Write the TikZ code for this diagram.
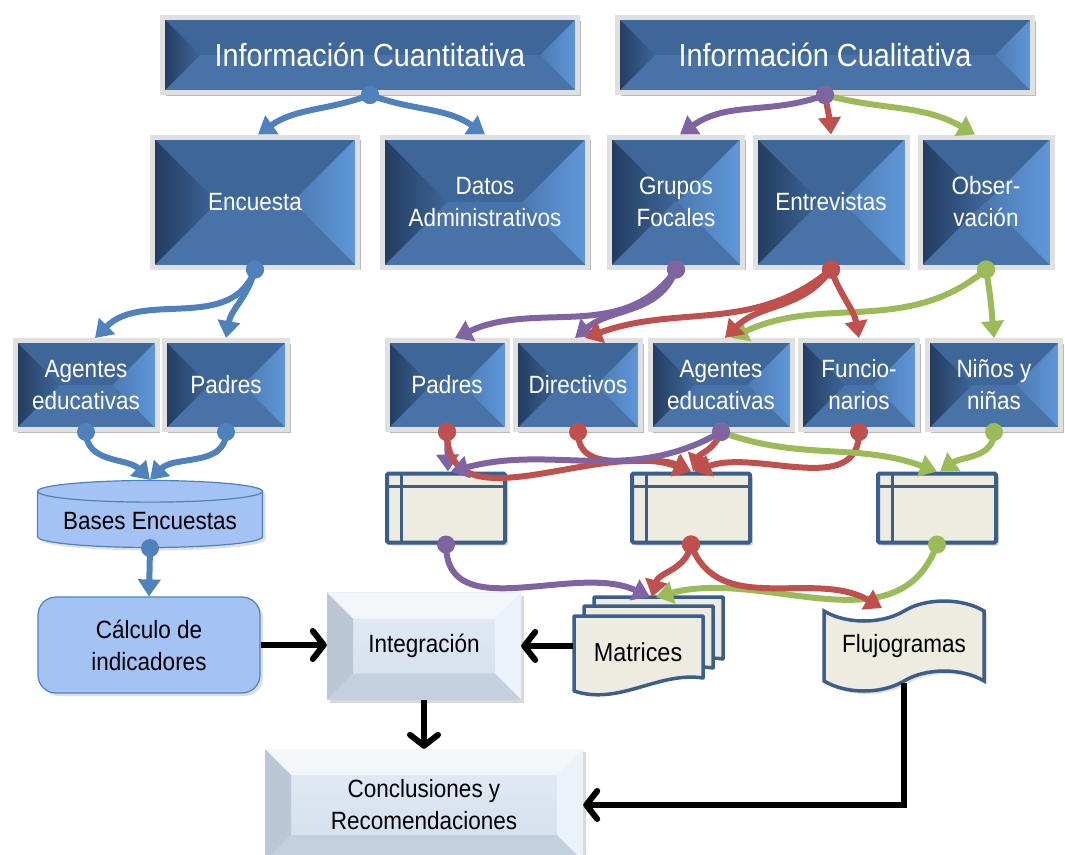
\documentclass[tikz,border=0pt]{standalone}
\usepackage{fontspec}
\setmainfont[FakeStretch=0.9]{Liberation Sans}
\usepackage{tikz}
\usetikzlibrary{shapes,shapes.geometric,shapes.symbols,shadows}
\usetikzlibrary{decorations,decorations.markings}
\usetikzlibrary{calc,arrows.meta}
\definecolor{cblue}{RGB}{79,129,189}
\definecolor{cpurple}{RGB}{128,100,162}
\definecolor{cred}{RGB}{192,80,77}
\definecolor{cgreen}{RGB}{155,187,89}
\definecolor{boxface}{RGB}{62,102,152}
\definecolor{boxdark}{RGB}{34,58,94}
\definecolor{boxlight}{RGB}{96,152,218}
\definecolor{boxlow}{RGB}{72,114,168}
\definecolor{palefacetop}{RGB}{228,236,245}
\definecolor{paleface}{RGB}{210,222,236}
\definecolor{paledark}{RGB}{188,199,214}
\definecolor{palelight}{RGB}{236,242,249}
\definecolor{dbfill}{RGB}{164,194,244}
\definecolor{paper}{RGB}{238,236,225}
\definecolor{ink}{RGB}{59,94,140}
\tikzstyle{bevel}=[draw=white!88!black, line width=5pt, fill=boxface, text=white, align=center,
  font=\fontsize{25}{32}\selectfont, inner sep=2pt,
  drop shadow={opacity=.55, shadow xshift=3pt, shadow yshift=-3pt},
  path picture={
    \path (path picture bounding box.north west) coordinate (pnw)
          (path picture bounding box.south west) coordinate (psw)
          (path picture bounding box.north east) coordinate (pne)
          (path picture bounding box.south east) coordinate (pse)
          (path picture bounding box.west) coordinate (pw)
          (path picture bounding box.east) coordinate (pe);
    \path ($(pw)!1!-90:(pnw)$) coordinate (pl) ($(pe)!1!90:(pne)$) coordinate (pr);
    \fill[boxlow] (psw) -- (pl) -- (pr) -- (pse) -- cycle;
    \shade[left color=boxdark, right color=boxface] (pnw) -- (pl) -- (psw) -- cycle;
    \shade[left color=boxface!60!boxlight, right color=boxlight] (pne) -- (pr) -- (pse) -- cycle;
  }]
\tikzstyle{palebevel}=[top color=palefacetop, bottom color=paleface, text=black, align=center,
  font=\fontsize{25}{32}\selectfont, inner sep=2pt,
  drop shadow={opacity=.3, shadow xshift=3pt, shadow yshift=-3pt},
  path picture={
    \path (path picture bounding box.north west) coordinate (pnw)
          (path picture bounding box.south west) coordinate (psw)
          (path picture bounding box.north east) coordinate (pne)
          (path picture bounding box.south east) coordinate (pse);
    \fill[white, opacity=.6] (pnw) -- (pne) -- ([shift={(-26pt,-26pt)}]pne) -- ([shift={(26pt,-26pt)}]pnw) -- cycle;
    \fill[paledark] (pnw) -- ([shift={(26pt,-26pt)}]pnw) -- ([shift={(26pt,26pt)}]psw) -- (psw) -- cycle;
    \fill[palelight] (pne) -- ([shift={(-26pt,-26pt)}]pne) -- ([shift={(-26pt,26pt)}]pse) -- (pse) -- cycle;
    \fill[paledark!60!paleface] (psw) -- ([shift={(26pt,26pt)}]psw) -- ([shift={(-26pt,26pt)}]pse) -- (pse) -- cycle;
  }]
\tikzstyle{store}=[draw=ink, line width=4pt, fill=paper, rounded corners=1.5pt,
  minimum width=118pt, minimum height=69pt,
  drop shadow={opacity=.3, shadow xshift=3pt, shadow yshift=-3pt},
  path picture={
    \draw[ink, line width=3pt] ([xshift=14pt]path picture bounding box.north west) -- ([xshift=14pt]path picture bounding box.south west);
    \draw[ink, line width=3pt] ([yshift=-13pt]path picture bounding box.north west) -- ([yshift=-13pt]path picture bounding box.north east);
  }]
\tikzstyle{dbase}=[cylinder, shape border rotate=90, aspect=0.12, draw=cblue, line width=1.2pt, fill=dbfill,
  minimum width=225pt, minimum height=67pt, text=black, font=\fontsize{25}{32}\selectfont,
  drop shadow={opacity=.25, shadow xshift=3pt, shadow yshift=-3pt}]
\tikzstyle{dbcalc}=[rectangle, rounded corners=18pt, draw=cblue, line width=1.2pt, fill=dbfill,
  minimum width=222pt, minimum height=96pt, text=black, align=center, font=\fontsize{25}{32}\selectfont,
  drop shadow={opacity=.25, shadow xshift=3pt, shadow yshift=-3pt}]
\tikzstyle{sheet}=[draw=ink, line width=3.5pt, fill=paper, line join=round]
\tikzstyle{flow}=[line width=6pt, -{Triangle[length=17pt,width=22pt]},
  decoration={markings, mark=at position 0 with {\fill circle[radius=9pt];}}, postaction={decorate}]
\tikzstyle{blk}=[line width=6pt, -{Straight Barb[length=11pt,width=28pt,round]}]

\begin{document}
\begin{tikzpicture}[x=1pt,y=-1pt]
\useasboundingbox (0,0) rectangle (1065,854);
\node[bevel, minimum width=415pt, minimum height=75pt, font=\fontsize{32}{38}\selectfont] (cuant) at (370,55) {Información Cuantitativa};
\node[bevel, minimum width=415pt, minimum height=75pt, font=\fontsize{32}{38}\selectfont] (cual) at (825,55) {Información Cualitativa};
\node[bevel, minimum width=205pt, minimum height=130pt] (enc) at (255,202) {Encuesta};
\node[bevel, minimum width=205pt, minimum height=130pt] (datos) at (485,202) {Datos\\Administrativos};
\node[bevel, minimum width=133pt, minimum height=130pt] (grupos) at (676,202) {Grupos\\Focales};
\node[bevel, minimum width=152pt, minimum height=130pt] (entrev) at (831,202) {Entrevistas};
\node[bevel, minimum width=132pt, minimum height=130pt] (obs) at (986,202) {Obser-\\vación};
\node[bevel, minimum width=142pt, minimum height=89pt] (agl) at (86,385) {Agentes\\educativas};
\node[bevel, minimum width=123pt, minimum height=89pt] (padl) at (226,385) {Padres};
\node[bevel, minimum width=120pt, minimum height=89pt] (padr) at (447,385) {Padres};
\node[bevel, minimum width=125pt, minimum height=89pt] (dirr) at (578,385) {Directivos};
\node[bevel, minimum width=142pt, minimum height=89pt] (agr) at (721,385) {Agentes\\educativas};
\node[bevel, minimum width=117pt, minimum height=89pt] (func) at (859,385) {Funcio-\\narios};
\node[bevel, minimum width=133pt, minimum height=89pt] (nin) at (994,385) {Niños y\\niñas};
\node[store] (w1) at (446,508) {};
\node[store] (w2) at (691,508) {};
\node[store] (w3) at (937,508) {};
\node[dbase] (bases) at (150,521) {Bases Encuestas};
\node[dbcalc] (calc) at (149,645) {Cálculo de\\indicadores};
\node[palebevel, minimum width=194pt, minimum height=107pt] (integ) at (424,646) {Integración};
\node[palebevel, minimum width=318pt, minimum height=112pt] (concl) at (424,805) {Conclusiones y\\Recomendaciones};
\foreach \dx/\dy in {20/-19,10/-10,0/0}
  \draw[sheet] ({574+\dx},{616+\dy}) -- ({703+\dx},{616+\dy}) -- ({703+\dx},{678+\dy})
    .. controls ({659+\dx},{671+\dy}) and ({619+\dx},{706+\dy}) .. ({574+\dx},{691+\dy}) -- cycle;
\node[minimum width=129pt, font=\fontsize{26}{32}\selectfont] (mat) at (638,652) {Matrices};
\node[tape, draw=ink, line width=3.5pt, fill=paper, minimum width=160pt, minimum height=90pt,
  tape bend height=20pt, font=\fontsize{25}{32}\selectfont,
  drop shadow={opacity=.25, shadow xshift=3pt, shadow yshift=-3pt}] (flujo) at (904,646) {Flujogramas};
\coordinate (mattop) at (650,597);
\coordinate (flutop) at (882,608);

\draw[flow,cblue] (cuant.south) to[out=200,in=35] ([xshift=3pt]enc.north);
\draw[flow,cblue] (cuant.south) to[out=-20,in=145] (datos.north);
\draw[flow,cred] (cual.south) to[out=280,in=95] (entrev.north);
\draw[flow,cgreen] (cual.south) to[out=-15,in=150] ([xshift=-11pt]obs.north);
\draw[flow,cpurple] (cual.south) to[out=200,in=35] ([xshift=4pt]grupos.north);
\draw[flow,cblue] (enc.south) to[out=250,in=45] ([xshift=9pt]agl.north);
\draw[flow,cblue] (enc.south) to[out=255,in=80] (padl.north);
\draw[flow,cpurple] (grupos.south) to[out=235,in=25] ([xshift=8pt]padr.north);
\draw[flow,cpurple] (grupos.south) to[out=250,in=40] ([xshift=-3pt]dirr.north);
\draw[flow,cgreen] (obs.south) to[out=220,in=25] ([xshift=10pt]agr.north);
\draw[flow,cgreen] (obs.south) to[out=280,in=95] (nin.north);
\draw[flow,cred] (entrev.south) to[out=220,in=20] ([xshift=7pt]dirr.north);
\draw[flow,cred] (entrev.south) to[out=235,in=45] ([xshift=4pt]agr.north);
\draw[flow,cred] (entrev.south) to[out=290,in=100] (func.north);
\draw[flow,cblue] (agl.south) to[out=270,in=135] (bases.north);
\draw[flow,cblue] (padl.south) to[out=270,in=45] (bases.north);
\draw[flow,cblue] (bases.south) -- (calc.north);
\draw[flow,cpurple] (padr.south) -- ([xshift=2pt]w1.north);
\draw[flow,cred] (padr.south) to[out=270,in=160] (w2.north);
\draw[flow,cred] (dirr.south) to[out=270,in=155] (w2.north);
\draw[flow,cred] (agr.south) to[out=250,in=70] ([xshift=2pt]w2.north);
\draw[flow,cred] (func.south) to[out=270,in=20] ([xshift=3pt]w2.north);
\draw[flow,cgreen] (agr.south) to[out=-20,in=160] (w3.north);
\draw[flow,cgreen] (nin.south) to[out=270,in=35] ([xshift=3pt]w3.north);
\draw[flow,cpurple] (agr.south) to[out=210,in=15] ([xshift=5pt]w1.north);
\draw[flow,cpurple] (w1.south) to[out=270,in=155] (mattop);
\draw[flow,cgreen] (w3.south) to[out=250,in=15] ([xshift=6pt]mattop);
\draw[flow,cred] (w2.south) to[out=260,in=75] ([xshift=2pt]mattop);
\draw[flow,cred] (w2.south) to[out=290,in=150] (flutop);

\draw[blk] (calc.east) -- (calc.east -| integ.west);
\draw[blk] (mat.west |- integ.east) -- (integ.east);
\draw[blk] (integ.south) -- (concl.north);
\draw[blk] (flujo.south) |- (concl.east);
\end{tikzpicture}
\end{document}
